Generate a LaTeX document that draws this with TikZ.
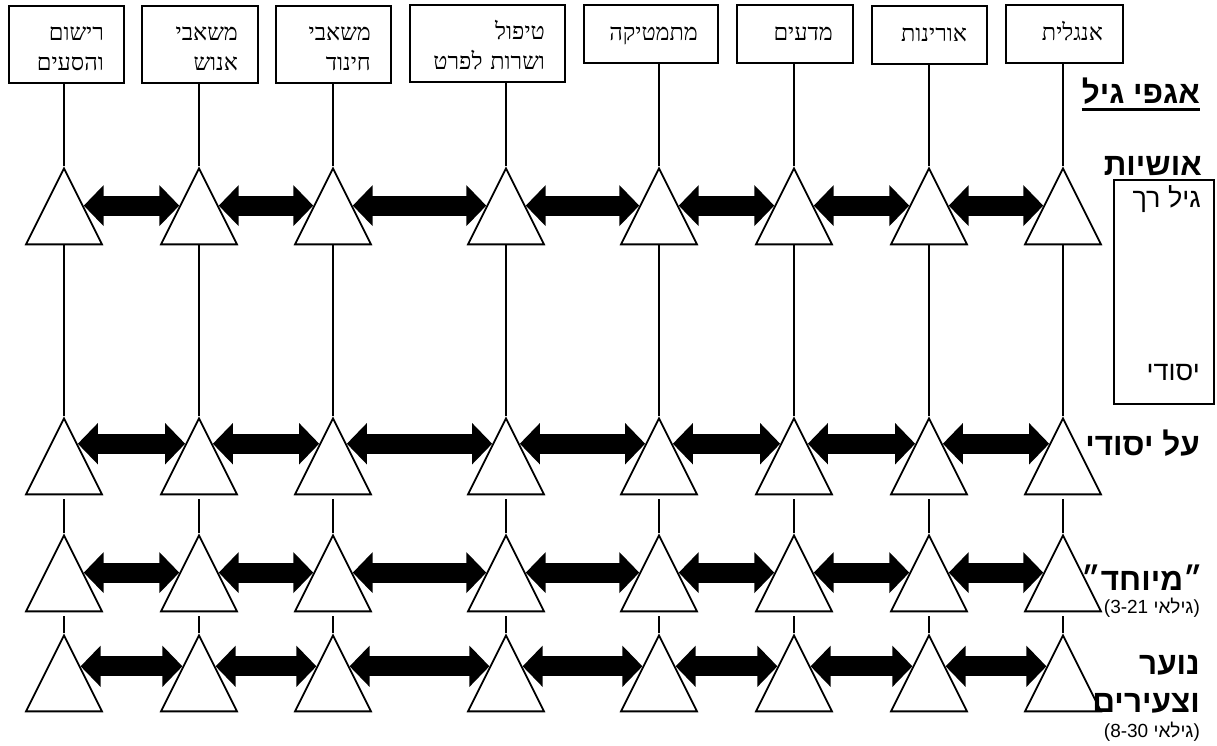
\documentclass[tikz,border=0pt]{standalone}
\usepackage{fontspec}
\usetikzlibrary{shapes.geometric,arrows.meta,calc}
\TeXXeTstate=1
\newfontfamily\hebserif[Script=Hebrew]{Liberation Serif}
\newfontfamily\hebsans[Script=Hebrew]{Liberation Sans}
\newcommand\heb[1]{\mbox{\beginR#1\endR}}
\tikzset{
  subject/.style={draw,line width=1.8pt,anchor=north west,inner xsep=20pt,inner ysep=0pt,
    align=right,font=\hebserif\fontsize{23.5}{30}\selectfont},
  oneline/.style={text height=36pt,text depth=22pt},
  twoline/.style={text height=35pt,text depth=42pt},
  tri/.style={draw,line width=1.8pt,isosceles triangle,isosceles triangle stretches,
    shape border rotate=90,minimum width=76pt,minimum height=76pt,inner sep=0pt,anchor=apex},
  link/.style={line width=1.8pt},
  twoway/.style={line width=20pt,{Triangle[length=20pt,width=40pt]}-{Triangle[length=20pt,width=40pt]}},
  agelbl/.style={anchor=east,inner sep=0pt,align=right,font=\hebsans\bfseries\fontsize{31.5}{38}\selectfont},
  stage/.style={anchor=east,inner sep=0pt,font=\hebsans\fontsize{27}{30}\selectfont},
  note/.style={anchor=east,inner sep=0pt,font=\hebsans\fontsize{19}{22}\selectfont}
}
\begin{document}
\begin{tikzpicture}[x=1pt,y=-1pt]
  \useasboundingbox (0,0) rectangle (1217,746);
  % subject areas
  \node[subject,twoline,text width=75pt] (b1) at (8,5) {\heb{רישום}\\\heb{והסעים}};
  \node[subject,twoline,text width=76pt] (b2) at (141,5) {\heb{משאבי}\\\heb{אנוש}};
  \node[subject,twoline,text width=75pt] (b3) at (275,5) {\heb{משאבי}\\\heb{חינוד}};
  \node[subject,twoline,text width=115pt] (b4) at (409,4) {\heb{טיפול}\\\heb{ושרות לפרט}};
  \node[subject,oneline,text width=94pt] (b5) at (583,4) {\heb{מתמטיקה}};
  \node[subject,oneline,text width=76pt] (b6) at (736,4) {\heb{מדעים}};
  \node[subject,oneline,text width=75pt] (b7) at (871,5) {\heb{אורינות}};
  \node[subject,oneline,text width=77pt] (b8) at (1005,4) {\heb{אנגלית}};
  % one column of triangles per subject
  \foreach \c/\x in {1/64,2/199,3/333,4/506,5/659,6/794,7/929,8/1063}{
    \node[tri] (t1\c) at (\x,166) {};
    \node[tri] (t2\c) at (\x,416) {};
    \node[tri] (t3\c) at (\x,533) {};
    \node[tri] (t4\c) at (\x,633) {};
    \draw[link] (b\c.south -| t1\c.apex) -- (t1\c.apex);
    \draw[link] (t1\c.lower side) -- (t2\c.apex);
    \draw[link,shorten <=4pt] (t2\c.lower side) -- (t3\c.apex);
    \draw[link,shorten <=4pt] (t3\c.lower side) -- (t4\c.apex);
  }
  \foreach \a/\b in {1/2,2/3,3/4,4/5,5/6,6/7,7/8}
    \foreach \r/\f in {1/0.5,2/0.35,3/0.5,4/0.42}
      \draw[twoway] ($(t\r\a.apex)!\f!(t\r\a.right corner)$) -- ($(t\r\b.apex)!\f!(t\r\b.left corner)$);
  % age groups
  \node[agelbl] (hdr) at (1200,91) {\heb{אגפי גיל}};
  \draw[line width=2.5pt] ([yshift=-6pt]hdr.base west) -- ([yshift=-6pt]hdr.base east);
  \node[agelbl] (basic) at (1202,166) {\heb{אושיות}};
  \node[draw,line width=1.8pt,minimum width=100pt,minimum height=224pt,inner sep=0pt,anchor=north west] (agebox) at (1113,179) {};
  \node[stage] (early) at (1201,199) {\heb{גיל רך}};
  \node[stage] (elem) at (1200,373) {\heb{יסודי}};
  \node[agelbl] (high) at (1200,443) {\heb{על יסודי}};
  \node[agelbl] (special) at (1203,578) {\heb{״מיוחד״}};
  \node[note] (spage) at (1200,608) {\heb{(גילאי^^^^00a03-21)}};
  \node[agelbl] (youth) at (1200,684) {\heb{נוער}\\\heb{וצעירים}};
  \node[note] (youthage) at (1200,732) {\heb{(גילאי^^^^00a08-30)}};
\end{tikzpicture}
\end{document}
